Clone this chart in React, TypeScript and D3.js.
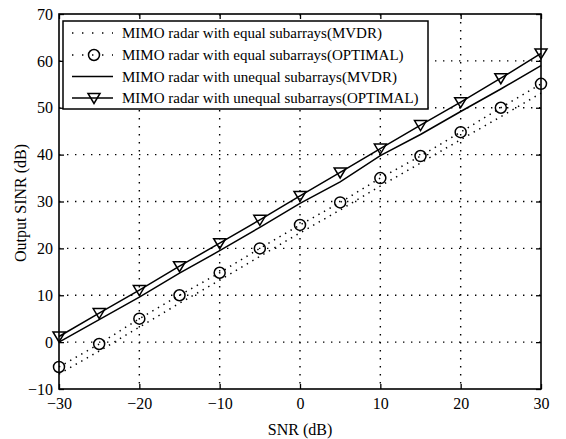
import React, { useEffect, useRef } from "react";
import * as d3 from "d3";

// SNR (dB) samples
const snr = [-30, -25, -20, -15, -10, -5, 0, 5, 10, 15, 20, 25, 30];

// Output SINR (dB)
const equalMvdr = [-6.8, -1.9, 3.2, 8.3, 13.2, 18.3, 23.3, 28.2, 33.3, 38.2, 43.2, 48.1, 53.1];
const equalOptimal = [-5.3, -0.4, 5.0, 10.0, 14.8, 20.0, 25.0, 29.8, 35.0, 39.7, 44.8, 50.0, 55.1];
const unequalMvdr = [0, 4.8, 9.6, 14.7, 19.5, 24.5, 29.6, 34.2, 39.8, 44.3, 49.2, 54.0, 59.0];
const unequalOptimal = [1.2, 6.2, 11.1, 16.2, 21.1, 26.1, 31.2, 36.2, 41.3, 46.3, 51.2, 56.3, 61.6];

const xTicks = [-30, -20, -10, 0, 10, 20, 30];
const yTicks = [-10, 0, 10, 20, 30, 40, 50, 60, 70];

const legendLabels = [
  "MIMO radar with equal subarrays(MVDR)",
  "MIMO radar with equal subarrays(OPTIMAL)",
  "MIMO radar with unequal subarrays(MVDR)",
  "MIMO radar with unequal subarrays(OPTIMAL)",
];

const font = "Liberation Serif, DejaVu Serif, serif";

export default function App() {
  const ref = useRef<SVGSVGElement>(null);

  useEffect(() => {
    const svg = d3.select(ref.current);
    svg.selectAll("*").remove();

    const x = d3.scaleLinear().domain([-30, 30]).range([59, 541]);
    const y = d3.scaleLinear().domain([-10, 70]).range([389, 14]);

    svg.append("rect").attr("width", 566).attr("height", 439).attr("fill", "#fff");

    // dotted grid
    const grid = svg.append("g").attr("stroke", "#000").attr("stroke-width", 1.4)
      .attr("stroke-dasharray", "1.4 6.6").attr("stroke-linecap", "butt");
    grid.selectAll("line.gx").data(xTicks.slice(1, -1)).enter().append("line")
      .attr("x1", d => x(d)).attr("x2", d => x(d)).attr("y1", y(70)).attr("y2", y(-10));
    grid.selectAll("line.gy").data(yTicks.slice(1, -1)).enter().append("line")
      .attr("x1", x(-30)).attr("x2", x(30)).attr("y1", d => y(d)).attr("y2", d => y(d));

    // axes (inward ticks on all sides)
    const bottom = svg.append("g").attr("transform", "translate(0," + y(-10) + ")")
      .call(d3.axisBottom(x).tickValues(xTicks).tickSize(-5).tickPadding(9));
    const left = svg.append("g").attr("transform", "translate(" + x(-30) + ",0)")
      .call(d3.axisLeft(y).tickValues(yTicks).tickSize(-5).tickPadding(6));
    svg.append("g").attr("transform", "translate(0," + y(70) + ")")
      .call(d3.axisTop(x).tickValues(xTicks).tickSize(-5).tickFormat(() => ""));
    svg.append("g").attr("transform", "translate(" + x(30) + ",0)")
      .call(d3.axisRight(y).tickValues(yTicks).tickSize(-5).tickFormat(() => ""));
    svg.selectAll(".domain").remove();
    svg.selectAll(".tick line").attr("stroke", "#000").attr("stroke-width", 1.3);
    [bottom, left].forEach(g => g.selectAll("text")
      .style("font-family", font).style("font-size", "16px").attr("fill", "#000"));

    // lines
    const line = d3.line<number>().x((d, i) => x(snr[i])).y(d => y(d));
    const series = [
      { data: equalMvdr, dash: "1.4 5" },
      { data: equalOptimal, dash: "1.4 5" },
      { data: unequalMvdr, dash: null },
      { data: unequalOptimal, dash: null },
    ];
    series.forEach(s => {
      svg.append("path").attr("d", line(s.data)).attr("fill", "none")
        .attr("stroke", "#000").attr("stroke-width", 1.5)
        .attr("stroke-dasharray", s.dash);
    });

    const tri = "M-6,-4.5L6,-4.5L0,5.5Z";
    svg.append("g").selectAll("circle").data(equalOptimal).enter().append("circle")
      .attr("cx", (d, i) => x(snr[i])).attr("cy", d => y(d)).attr("r", 5.5)
      .attr("fill", "none").attr("stroke", "#000").attr("stroke-width", 1.5);
    svg.append("g").selectAll("path").data(unequalOptimal).enter().append("path")
      .attr("d", tri).attr("transform", (d, i) => "translate(" + x(snr[i]) + "," + y(d) + ")")
      .attr("fill", "none").attr("stroke", "#000").attr("stroke-width", 1.5);

    // border
    svg.append("rect").attr("x", x(-30)).attr("y", y(70))
      .attr("width", x(30) - x(-30)).attr("height", y(-10) - y(70))
      .attr("fill", "none").attr("stroke", "#000").attr("stroke-width", 1.6);

    // legend
    const lg = svg.append("g");
    lg.append("rect").attr("x", 63).attr("y", 21).attr("width", 365).attr("height", 88)
      .attr("fill", "#fff").attr("stroke", "#000").attr("stroke-width", 1.5);
    const rowY = [33, 55, 76.5, 98];
    legendLabels.forEach((label, i) => {
      const ry = rowY[i];
      lg.append("line").attr("x1", 72).attr("x2", 113).attr("y1", ry).attr("y2", ry)
        .attr("stroke", "#000").attr("stroke-width", 1.5)
        .attr("stroke-dasharray", i < 2 ? "1.4 8.6" : null);
      if (i === 1) {
        lg.append("circle").attr("cx", 94).attr("cy", ry).attr("r", 5.5)
          .attr("fill", "none").attr("stroke", "#000").attr("stroke-width", 1.5);
      }
      if (i === 3) {
        lg.append("path").attr("d", tri).attr("transform", "translate(94," + ry + ")")
          .attr("fill", "none").attr("stroke", "#000").attr("stroke-width", 1.5);
      }
      lg.append("text").attr("x", 122).attr("y", ry).attr("dy", "0.35em")
        .style("font-family", font).style("font-size", "15px").text(label);
    });

    // axis titles
    svg.append("text").attr("x", 300).attr("y", 435).attr("text-anchor", "middle")
      .style("font-family", font).style("font-size", "16px").text("SNR (dB)");
    svg.append("text").attr("transform", "translate(26,203) rotate(-90)")
      .attr("text-anchor", "middle")
      .style("font-family", font).style("font-size", "16px").text("Output SINR (dB)");
  }, []);

  return (
    <svg ref={ref} width={566} height={439}
      style={{ position: "absolute", left: 0, top: 0, display: "block" }} />
  );
}
